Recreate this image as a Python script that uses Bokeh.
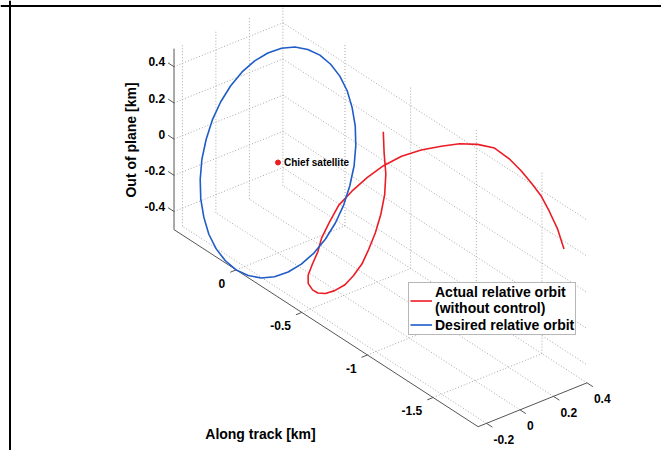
import numpy as np
from bokeh.plotting import figure
from bokeh.models import Range1d, Legend, Span
from bokeh.core.properties import value
from bokeh.embed import file_html
from bokeh.resources import INLINE

# ---------------- data (km): radial, along-track, out-of-plane ----------------
desired_radial = [0.125, 0.086, 0.043, 0.0, -0.043, -0.086, -0.125, -0.161, -0.191, -0.217,
                  -0.235, -0.246, -0.25, -0.246, -0.235, -0.217, -0.191, -0.161, -0.125, -0.086,
                  -0.043, 0.0, 0.043, 0.086, 0.125, 0.161, 0.191, 0.217, 0.235, 0.246,
                  0.25, 0.246, 0.235, 0.217, 0.191, 0.161, 0.125]
desired_along = [-0.433, -0.470, -0.492, -0.5, -0.492, -0.470, -0.433, -0.383, -0.321, -0.25,
                 -0.171, -0.087, 0.0, 0.087, 0.171, 0.25, 0.321, 0.383, 0.433, 0.470,
                 0.492, 0.5, 0.492, 0.470, 0.433, 0.383, 0.321, 0.25, 0.171, 0.087,
                 0.0, -0.087, -0.171, -0.25, -0.321, -0.383, -0.433]
desired_out = [0.25, 0.171, 0.087, 0.0, -0.087, -0.171, -0.25, -0.321, -0.383, -0.433,
               -0.470, -0.492, -0.5, -0.492, -0.470, -0.433, -0.383, -0.321, -0.25, -0.171,
               -0.087, 0.0, 0.087, 0.171, 0.25, 0.321, 0.383, 0.433, 0.470, 0.492,
               0.5, 0.492, 0.470, 0.433, 0.383, 0.321, 0.25]

actual_radial = [0.232, 0.189, 0.157, 0.121, 0.083, 0.047, 0.015, -0.011, -0.036, -0.054,
                 -0.074, -0.086, -0.089, -0.082, -0.071, -0.046, -0.008, 0.032, 0.061, 0.098,
                 0.134, 0.177, 0.220, 0.259, 0.297, 0.333, 0.363, 0.381, 0.392, 0.396,
                 0.388, 0.368, 0.342, 0.315, 0.286, 0.260, 0.232]
actual_along = [-0.506, -0.567, -0.621, -0.658, -0.677, -0.681, -0.671, -0.653, -0.620, -0.579,
                -0.526, -0.471, -0.417, -0.368, -0.321, -0.288, -0.271, -0.262, -0.254, -0.266,
                -0.291, -0.337, -0.398, -0.473, -0.562, -0.666, -0.780, -0.897, -1.019, -1.144,
                -1.266, -1.382, -1.493, -1.601, -1.702, -1.799, -1.882]
actual_out = [0.321, 0.250, 0.171, 0.087, 0.000, -0.087, -0.171, -0.250, -0.321, -0.383,
              -0.433, -0.470, -0.492, -0.500, -0.492, -0.470, -0.433, -0.383, -0.321, -0.242,
              -0.150, -0.066, 0.021, 0.108, 0.188, 0.258, 0.321, 0.383, 0.433, 0.470,
              0.471, 0.467, 0.461, 0.452, 0.423, 0.379, 0.321]

chief_radial = [0.0]
chief_along = [0.0]
chief_out = [0.0]

radial_ticks = [-0.2, 0.0, 0.2, 0.4]
radial_labels = ["-0.2", "0", "0.2", "0.4"]
along_ticks = [0.0, -0.5, -1.0, -1.5]
along_labels = ["0", "-0.5", "-1", "-1.5"]
out_ticks = [-0.4, -0.2, 0.0, 0.2, 0.4]
out_labels = ["-0.4", "-0.2", "0", "0.2", "0.4"]

radial_lim = (-0.25, 0.40)
along_lim = (-1.843, 0.473)
out_lim = (-0.5, 0.5)

# ---------------- 3-D view (orthographic projection to canvas px) ----------------
ORIGIN = (277.5, 162.0)
E_R = (167.5, -67.5)
E_AL = (-131.3, -85.1)
E_Z = (0.0, -181.0)


def proj(r, a, z):
    r, a, z = np.broadcast_arrays(np.asarray(r, float), np.asarray(a, float), np.asarray(z, float))
    x = ORIGIN[0] + E_R[0] * r + E_AL[0] * a + E_Z[0] * z
    y = ORIGIN[1] + E_R[1] * r + E_AL[1] * a + E_Z[1] * z
    return x.tolist(), y.tolist()


W, H = 661, 450
p = figure(width=W, height=H, x_range=Range1d(0, W), y_range=Range1d(H, 0),
           output_backend="svg", toolbar_location=None, min_border=0,
           x_axis_location=None, y_axis_location=None,
           background_fill_color="white", border_fill_color="white", outline_line_color=None)
p.grid.visible = False

FONT = value("Liberation Sans")
rmin, rmax = radial_lim
amin, amax = along_lim
zmin, zmax = out_lim

# ---------------- grid lines on the back planes ----------------
segs = []
for r in radial_ticks:
    segs.append(((r, amin, zmin), (r, amax, zmin)))
    segs.append(((r, amax, zmin), (r, amax, zmax)))
for a in along_ticks:
    segs.append(((rmin, a, zmin), (rmax, a, zmin)))
    segs.append(((rmax, a, zmin), (rmax, a, zmax)))
for z in out_ticks:
    segs.append(((rmin, amax, z), (rmax, amax, z)))
    segs.append(((rmax, amax, z), (rmax, amin, z)))
gx, gy = [], []
for s0, s1 in segs:
    xs, ys = proj([s0[0], s1[0]], [s0[1], s1[1]], [s0[2], s1[2]])
    gx.append(xs)
    gy.append(ys)
p.multi_line(gx, gy, line_color="#a8a8a8", line_width=1, line_dash="1 2")

# ---------------- axis lines ----------------
ax_segs = [((rmin, amax, zmin), (rmin, amax, zmax)),
           ((rmin, amax, zmin), (rmin, amin, zmin)),
           ((rmin, amin, zmin), (rmax, amin, zmin))]
axx, axy = [], []
for s0, s1 in ax_segs:
    xs, ys = proj([s0[0], s1[0]], [s0[1], s1[1]], [s0[2], s1[2]])
    axx.append(xs)
    axy.append(ys)

# ticks
nz, na, nr = len(out_ticks), len(along_ticks), len(radial_ticks)
z0x, z0y = proj([rmin] * nz, [amax] * nz, out_ticks)
z1x, z1y = proj([rmin] * nz, [amax + 0.045] * nz, out_ticks)
a0x, a0y = proj([rmin] * na, along_ticks, [zmin] * na)
a1x, a1y = proj([rmin - 0.035] * na, along_ticks, [zmin] * na)
r0x, r0y = proj(radial_ticks, [amin] * nr, [zmin] * nr)
r1x, r1y = proj(radial_ticks, [amin - 0.045] * nr, [zmin] * nr)
for x0, y0, x1, y1 in [(z0x, z0y, z1x, z1y), (a0x, a0y, a1x, a1y), (r0x, r0y, r1x, r1y)]:
    for i in range(len(x0)):
        axx.append([x0[i], x1[i]])
        axy.append([y0[i], y1[i]])
p.multi_line(axx, axy, line_color="#555555", line_width=1)

lab = dict(text_font=FONT, text_font_style="bold", text_font_size="12px", text_color="black",
           text_baseline="middle")
p.text([x - 3 for x in z1x], [y - 1 for y in z1y], text=out_labels, text_align="right", **lab)
p.text([x - 5 for x in a1x], [y + 11 for y in a1y], text=along_labels, text_align="right", **lab)
p.text([x + 1 for x in r1x], [y + 12 for y in r1y], text=radial_labels, text_align="left", **lab)

p.text([130], [139.5], text=["Out of plane [km]"], angle=np.pi / 2, text_align="center",
       text_baseline="middle", text_font=FONT, text_font_style="bold", text_font_size="14px",
       text_color="black")
p.text([260], [433.5], text=["Along track [km]"], text_align="center", text_baseline="middle",
       text_font=FONT, text_font_style="bold", text_font_size="14px", text_color="black")

# ---------------- orbits ----------------
RED = "#ec1c24"
BLUE = "#1f5cc8"
rx, ry = proj(actual_radial, actual_along, actual_out)
red_r = p.line(rx, ry, line_color=RED, line_width=1.6, line_join="round")
bx, by = proj(desired_radial, desired_along, desired_out)
blue_r = p.line(bx, by, line_color=BLUE, line_width=1.6, line_join="round")

cx, cy = proj(chief_radial, chief_along, chief_out)
p.scatter(cx, cy, size=5, fill_color=RED, line_color=RED)
p.text(cx, cy, text=["Chief satellite"], x_offset=6, text_align="left", text_baseline="middle",
       text_font=FONT, text_font_style="bold", text_font_size="10px", text_color="black")

legend = Legend(items=[("Actual relative orbit\n(without control)", [red_r]),
                       ("Desired relative orbit", [blue_r])],
                location=(408, 115), orientation="vertical",
                border_line_color="#707070", border_line_width=1,
                background_fill_color="white", background_fill_alpha=1.0,
                padding=1, spacing=0, margin=0, glyph_width=22, glyph_height=17,
                label_standoff=3, label_height=17,
                label_text_font="Liberation Sans", label_text_font_style="bold",
                label_text_font_size="14px", label_text_color="black")
p.add_layout(legend)

# figure frame (left and top edges)
p.add_layout(Span(location=9.5, dimension="height", line_color="black", line_width=2))
p.add_layout(Span(location=5.5, dimension="width", line_color="black", line_width=2))

open("out.html", "w").write(file_html(p, INLINE))
